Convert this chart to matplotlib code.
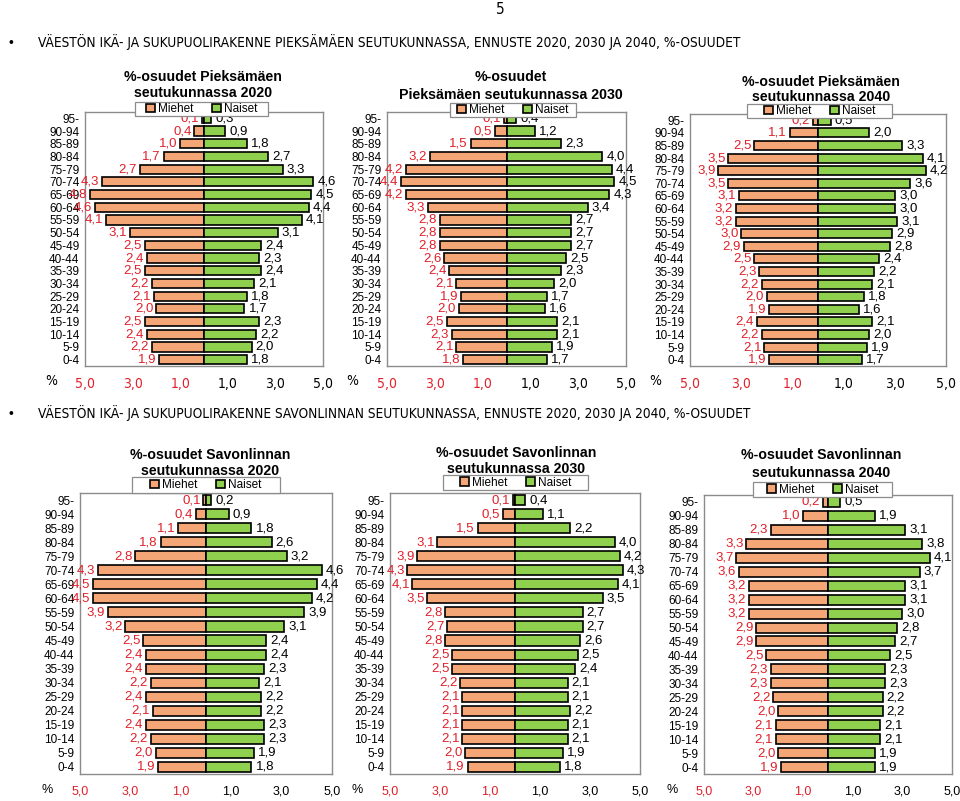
import numpy as np
import matplotlib
matplotlib.use("Agg")
import matplotlib.pyplot as plt
from matplotlib.patches import Rectangle
from matplotlib.ticker import FixedLocator
from matplotlib import font_manager
from matplotlib.font_manager import FontProperties

W, H = 960, 801

ages = ['95-', '90-94', '85-89', '80-84', '75-79', '70-74', '65-69', '60-64', '55-59', '50-54',
        '45-49', '40-44', '35-39', '30-34', '25-29', '20-24', '15-19', '10-14', '5-9', '0-4']

pie2020_m = [0.1, 0.4, 1.0, 1.7, 2.7, 4.3, 4.8, 4.6, 4.1, 3.1, 2.5, 2.4, 2.5, 2.2, 2.1, 2.0, 2.5, 2.4, 2.2, 1.9]
pie2020_n = [0.3, 0.9, 1.8, 2.7, 3.3, 4.6, 4.5, 4.4, 4.1, 3.1, 2.4, 2.3, 2.4, 2.1, 1.8, 1.7, 2.3, 2.2, 2.0, 1.8]
pie2030_m = [0.1, 0.5, 1.5, 3.2, 4.2, 4.4, 4.2, 3.3, 2.8, 2.8, 2.8, 2.6, 2.4, 2.1, 1.9, 2.0, 2.5, 2.3, 2.1, 1.8]
pie2030_n = [0.4, 1.2, 2.3, 4.0, 4.4, 4.5, 4.3, 3.4, 2.7, 2.7, 2.7, 2.5, 2.3, 2.0, 1.7, 1.6, 2.1, 2.1, 1.9, 1.7]
pie2040_m = [0.2, 1.1, 2.5, 3.5, 3.9, 3.5, 3.1, 3.2, 3.2, 3.0, 2.9, 2.5, 2.3, 2.2, 2.0, 1.9, 2.4, 2.2, 2.1, 1.9]
pie2040_n = [0.5, 2.0, 3.3, 4.1, 4.2, 3.6, 3.0, 3.0, 3.1, 2.9, 2.8, 2.4, 2.2, 2.1, 1.8, 1.6, 2.1, 2.0, 1.9, 1.7]
sav2020_m = [0.1, 0.4, 1.1, 1.8, 2.8, 4.3, 4.5, 4.5, 3.9, 3.2, 2.5, 2.4, 2.4, 2.2, 2.4, 2.1, 2.4, 2.2, 2.0, 1.9]
sav2020_n = [0.2, 0.9, 1.8, 2.6, 3.2, 4.6, 4.4, 4.2, 3.9, 3.1, 2.4, 2.4, 2.3, 2.1, 2.2, 2.2, 2.3, 2.3, 1.9, 1.8]
sav2030_m = [0.1, 0.5, 1.5, 3.1, 3.9, 4.3, 4.1, 3.5, 2.8, 2.7, 2.8, 2.5, 2.5, 2.2, 2.1, 2.1, 2.1, 2.1, 2.0, 1.9]
sav2030_n = [0.4, 1.1, 2.2, 4.0, 4.2, 4.3, 4.1, 3.5, 2.7, 2.7, 2.6, 2.5, 2.4, 2.1, 2.1, 2.2, 2.1, 2.1, 1.9, 1.8]
sav2040_m = [0.2, 1.0, 2.3, 3.3, 3.7, 3.6, 3.2, 3.2, 3.2, 2.9, 2.9, 2.5, 2.3, 2.3, 2.2, 2.0, 2.1, 2.1, 2.0, 1.9]
sav2040_n = [0.5, 1.9, 3.1, 3.8, 4.1, 3.7, 3.1, 3.1, 3.0, 2.8, 2.7, 2.5, 2.3, 2.3, 2.2, 2.2, 2.1, 2.1, 1.9, 1.9]

xticks = [-5, -3, -1, 1, 3, 5]
xticklabels = ['5,0', '3,0', '1,0', '1,0', '3,0', '5,0']
legend_labels = ['Miehet', 'Naiset']

header1 = 'VÄESTÖN IKÄ- JA SUKUPUOLIRAKENNE PIEKSÄMÄEN SEUTUKUNNASSA, ENNUSTE 2020, 2030 JA 2040, %-OSUUDET'
header2 = 'VÄESTÖN IKÄ- JA SUKUPUOLIRAKENNE SAVONLINNAN SEUTUKUNNASSA, ENNUSTE 2020, 2030 JA 2040, %-OSUUDET'

ORANGE = '#F5A676'
GREEN = '#8FD14F'
RED = '#E0202A'
CHART_FONT = ['Liberation Sans', 'DejaVu Sans']

# pick a narrow / condensed family for the document text if one is installed
_fonts = font_manager.fontManager.ttflist
_names = {f.name for f in _fonts}
if 'Liberation Sans Narrow' in _names:
    DOC_PROPS = dict(family=['Liberation Sans Narrow', 'DejaVu Sans'])
elif any(f.name == 'DejaVu Sans' and str(f.stretch) in ('condensed', 'semi-condensed', '87.5')
         for f in _fonts):
    DOC_PROPS = dict(family=['DejaVu Sans'], fontstretch='condensed')
else:
    DOC_PROPS = dict(family=['Liberation Sans', 'DejaVu Sans'])

fig = plt.figure(figsize=(W / 100, H / 100), dpi=100)
fig.patch.set_facecolor('white')


def fx(x):
    return x / W


def fy(y):
    return 1 - y / H


def fmt(v):
    return f'{v:.1f}'.replace('.', ',')


panels = [
    (pie2020_m, pie2020_n, (85, 323, 112, 366), ['%-osuudet Pieksämäen', 'seutukunnassa 2020'], (77, 93), 203,
     (135, 268, 102, 116), 51, 0),
    (pie2030_m, pie2030_n, (387, 626, 112, 366), ['%-osuudet', 'Pieksämäen seutukunnassa 2030'], (77, 95), 511,
     (450, 576, 103, 117), 352, 0),
    (pie2040_m, pie2040_n, (690, 946, 114, 366), ['%-osuudet Pieksämäen', 'seutukunnassa 2040'], (82, 97), 821,
     (747, 892, 104, 118), 655, 0),
    (sav2020_m, sav2020_n, (80, 332, 493, 774), ['%-osuudet Savonlinnan', 'seutukunnassa 2020'], (455, 471), 210,
     (132, 280, 477, 493), 47, 1),
    (sav2030_m, sav2030_n, (390, 640, 493, 774), ['%-osuudet Savonlinnan', 'seutukunnassa 2030'], (453, 469), 516,
     (443, 588, 475, 490), 357, 1),
    (sav2040_m, sav2040_n, (704, 952, 495, 774), ['%-osuudet Savonlinnan', 'seutukunnassa 2040'], (455, 473), 821,
     (753, 892, 482, 497), 672, 1),
]

ypos = np.arange(len(ages))[::-1]

for men, women, (l, r, t, b), tlines, tys, tx, (ll, lr, lt, lb), pctx, row in panels:
    ax = fig.add_axes([fx(l), fy(b), fx(r - l), (b - t) / H])
    ax.set_facecolor('white')
    m = np.array(men)
    n = np.array(women)
    bm = ax.barh(ypos, -m, height=0.72, color=ORANGE, edgecolor='black', linewidth=1.2, zorder=3)
    bn = ax.barh(ypos, n, height=0.72, color=GREEN, edgecolor='black', linewidth=1.2, zorder=3)
    ax.bar_label(bm, labels=[fmt(v) for v in men], padding=2, color=RED, fontsize=9.5, family=CHART_FONT, zorder=4)
    ax.bar_label(bn, labels=[fmt(v) for v in women], padding=3, color='black', fontsize=9.5, family=CHART_FONT,
                 zorder=4)
    ax.set_xlim(-5, 5)
    ax.set_ylim(-0.5, len(ages) - 0.5)
    ax.set_yticks(ypos)
    ax.set_yticklabels(ages, fontsize=8.5, family=CHART_FONT)
    ax.set_xticks(xticks)
    if row == 0:
        ax.set_xticklabels(xticklabels, fontsize=10, **DOC_PROPS)
    else:
        ax.set_xticklabels(xticklabels, fontsize=9, family=CHART_FONT)
    for i, lab in enumerate(ax.get_xticklabels()):
        if xticks[i] < 0:
            lab.set_color(RED)
    ax.tick_params(axis='both', length=0)
    ax.tick_params(axis='x', pad=8)
    ax.tick_params(axis='y', pad=4)
    ax.xaxis.set_minor_locator(FixedLocator([-3, 3]))
    ax.grid(which='minor', axis='x', color='#D0D0D0', linewidth=0.8, zorder=0)
    ax.grid(which='major', visible=False)
    for sp in ax.spines.values():
        sp.set_color('#8C8C8C')
        sp.set_linewidth(1.0)

    for ty, line in zip(tys, tlines):
        fig.text(fx(tx), fy(ty), line, ha='center', va='center', fontsize=10.2, fontweight='bold',
                 family=CHART_FONT)

    fig.add_artist(Rectangle((fx(ll), fy(lb)), fx(lr - ll), (lb - lt) / H, transform=fig.transFigure,
                             facecolor='white', edgecolor='#8C8C8C', linewidth=0.9, zorder=5))
    leg = fig.legend([bm, bn], legend_labels, loc='center',
                     bbox_to_anchor=(fx((ll + lr) / 2), fy((lt + lb) / 2)), ncol=2, frameon=False,
                     handlelength=0.75, handleheight=0.75, handletextpad=0.25,
                     columnspacing=1.6, borderpad=0.0, prop={'family': CHART_FONT, 'size': 8.5})
    leg.set_zorder(6)

    if row == 0:
        fig.text(fx(pctx), fy(381), '%', ha='center', va='center', fontsize=10, **DOC_PROPS)
    else:
        fig.text(fx(pctx), fy(790), '%', ha='center', va='center', fontsize=9, family=CHART_FONT)

fig.text(fx(500), fy(9), '5', ha='center', va='center', fontsize=11, **DOC_PROPS)
fig.text(fx(11), fy(43), '•', ha='center', va='center', fontsize=10, family=CHART_FONT)
fig.text(fx(11), fy(414), '•', ha='center', va='center', fontsize=10, family=CHART_FONT)
h1 = fig.text(fx(38), fy(42), header1, ha='left', va='center', fontsize=10, **DOC_PROPS)
h2 = fig.text(fx(38), fy(413), header2, ha='left', va='center', fontsize=10, **DOC_PROPS)

# fit the header width to the page line (about 705 px for the first header)
fig.canvas.draw()
renderer = fig.canvas.get_renderer()
w1 = h1.get_window_extent(renderer).width
if w1 > 0:
    scale = 705.0 / w1
    for h in (h1, h2):
        h.set_fontsize(10 * scale)

fig.savefig('out.png', dpi=100, facecolor='white')
